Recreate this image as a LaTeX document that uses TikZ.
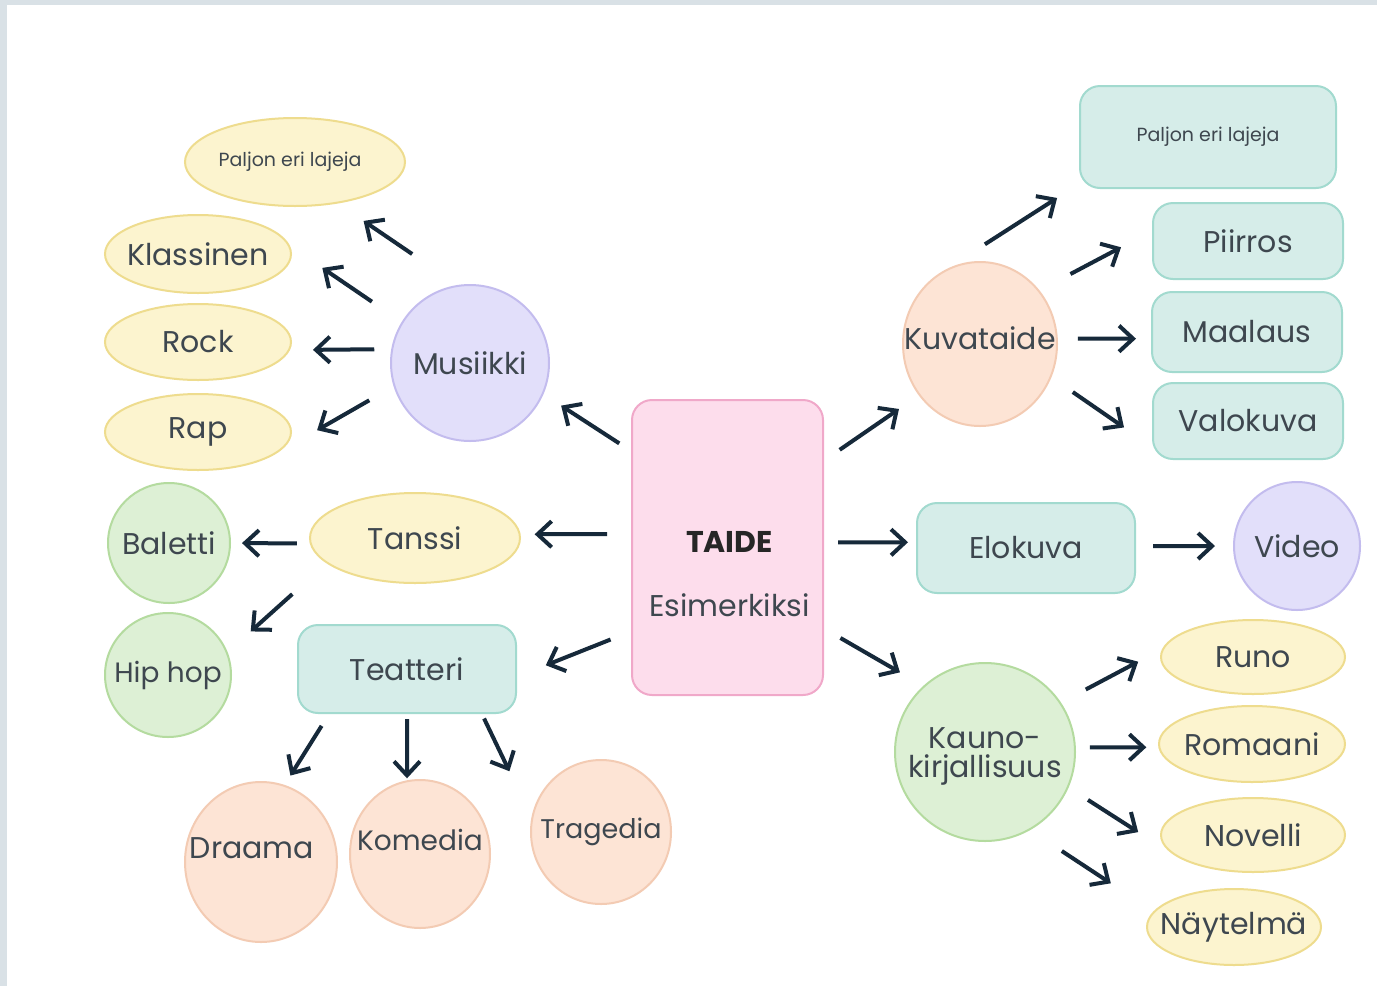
\documentclass[tikz,border=0pt]{standalone}
\usepackage{fontspec}
\setmainfont{Poppins}
\usepackage{tikz}
\usetikzlibrary{shapes.geometric,arrows.meta}

\definecolor{frame}{HTML}{D9E1E6}
\definecolor{ink}{HTML}{16293A}
\definecolor{txt}{HTML}{3E474F}
\definecolor{yelFill}{HTML}{FCF4CF}
\definecolor{yelLine}{HTML}{EEDC8E}
\definecolor{grnFill}{HTML}{DDF0D5}
\definecolor{grnLine}{HTML}{B4DB9F}
\definecolor{pchFill}{HTML}{FDE4D5}
\definecolor{pchLine}{HTML}{F3CBB3}
\definecolor{purFill}{HTML}{E2DFFA}
\definecolor{purLine}{HTML}{C3BCEE}
\definecolor{tealFill}{HTML}{D6EDE9}
\definecolor{tealLine}{HTML}{A2DACF}
\definecolor{pinkFill}{HTML}{FDDDEC}
\definecolor{pinkLine}{HTML}{F0A8C9}

\newcommand{\branch}[4]{
  % arrow from anchor to anchor, pulled back at both ends
  \draw[pil, shorten <=#3pt, shorten >=#4pt] (#1) -- (#2);
}

\begin{document}
\begin{tikzpicture}[x=1pt, y=-1pt,
  every node/.style={text=txt, font=\fontsize{30}{34}\selectfont},
  blob/.style={ellipse, line width=2pt, inner sep=0pt},
  box/.style={rectangle, rounded corners=20pt, line width=2pt, inner sep=0pt},
  yel/.style={blob, fill=yelFill, draw=yelLine},
  grn/.style={blob, fill=grnFill, draw=grnLine},
  pch/.style={blob, fill=pchFill, draw=pchLine},
  pur/.style={blob, fill=purFill, draw=purLine},
  teal/.style={box, fill=tealFill, draw=tealLine},
  small/.style={font=\fontsize{19}{23}\selectfont},
  pil/.style={draw=ink, line width=4pt, -{Straight Barb[length=14pt,width=26pt]}}]

\useasboundingbox (0,0) rectangle (1377,986);
\fill[frame] (0,0) rectangle (1377,986);
\fill[white] (7,5) rectangle (1377,986);

% centre
\node[box, fill=pinkFill, draw=pinkLine, minimum width=191pt, minimum height=295pt,
      label={[align=center, yshift=-27pt, xshift=2pt]center:{\color{black!85}\textbf{TAIDE}}\\[30pt]Esimerkiksi}]
      (taide) at (727.5,547.5) {};

% music
\node[pur, minimum width=158pt, minimum height=156pt, label=center:Musiikki] (musiikki) at (470,363) {};
\node[yel, minimum width=220pt, minimum height=88pt, label={[small, xshift=-5pt]center:Paljon eri lajeja}] (paljonL) at (295,162) {};
\node[yel, minimum width=186pt, minimum height=78pt, label=center:Klassinen] (klassinen) at (198,254) {};
\node[yel, minimum width=186pt, minimum height=76pt, label=center:Rock] (rock) at (198,342) {};
\node[yel, minimum width=186pt, minimum height=76pt, label=center:Rap] (rap) at (198,432) {};

% dance
\node[yel, minimum width=210pt, minimum height=90pt, label=center:Tanssi] (tanssi) at (415,538) {};
\node[grn, minimum width=122pt, minimum height=120pt, label=center:Baletti] (baletti) at (169,543) {};
\node[grn, minimum width=126pt, minimum height=124pt, label={[font=\fontsize{28}{32}\selectfont]center:Hip hop}] (hiphop) at (168,675) {};

% theatre
\node[teal, minimum width=218pt, minimum height=88pt] (teatteri) at (407,669) {Teatteri};
\node[pch, minimum width=152pt, minimum height=160pt, label={[yshift=14pt, xshift=-9pt]center:Draama}] (draama) at (261,862) {};
\node[pch, minimum width=140pt, minimum height=148pt, label={[yshift=14pt, font=\fontsize{28}{32}\selectfont]center:Komedia}] (komedia) at (420,854) {};
\node[pch, minimum width=140pt, minimum height=144pt, label={[font=\fontsize{27}{31}\selectfont]center:Tragedia}] (tragedia) at (601,832) {};

% visual art
\node[pch, minimum width=154pt, minimum height=164pt, label={[yshift=6pt]center:Kuvataide}] (kuvataide) at (980,344) {};
\node[teal, minimum width=256pt, minimum height=102pt, small] (paljonR) at (1208,137) {Paljon eri lajeja};
\node[teal, minimum width=190pt, minimum height=76pt] (piirros) at (1248,241) {Piirros};
\node[teal, minimum width=190pt, minimum height=80pt] (maalaus) at (1247,332) {Maalaus};
\node[teal, minimum width=190pt, minimum height=76pt] (valokuva) at (1248,421) {Valokuva};

% film
\node[teal, minimum width=218pt, minimum height=90pt] (elokuva) at (1026,548) {Elokuva};
\node[pur, minimum width=126pt, minimum height=128pt, label=center:Video] (video) at (1297,546) {};

% literature
\node[grn, minimum width=180pt, minimum height=178pt,
      label={[align=center, yshift=-4pt, font=\fontsize{30}{29}\selectfont]center:Kauno-\\kirjallisuus}] (kauno) at (985,752) {};
\node[yel, minimum width=184pt, minimum height=74pt, label=center:Runo] (runo) at (1253,657) {};
\node[yel, minimum width=186pt, minimum height=76pt, label=center:Romaani] (romaani) at (1252,744) {};
\node[yel, minimum width=184pt, minimum height=74pt, label=center:Novelli] (novelli) at (1253,835) {};
\node[yel, minimum width=174pt, minimum height=76pt, label=center:Näytelmä] (naytelma) at (1234,927) {};

% arrows
\branch{taide.135}{musiikki.-23}{14}{21}
\branch{musiikki.99}{paljonL.-44}{55}{31}
\branch{musiikki.149}{klassinen.5}{36}{39}
\branch{musiikki.170}{rock.-5}{17}{23}
\branch{musiikki.197}{rap.-18}{28}{52}
\branch{taide.172}{tanssi.2}{24}{14}
\branch{tanssi.183}{baletti.0}{13}{11}
\branch{tanssi.196}{hiphop.21}{46}{31}
\branch{taide.221}{teatteri.-4}{22}{31}
\branch{teatteri.210}{draama.73}{14}{11}
\branch{teatteri.south}{komedia.100}{5}{2}
\branch{teatteri.-31}{tragedia.168}{5}{51}
\branch{taide.42}{kuvataide.220}{19}{24}
\branch{kuvataide.115}{paljonR.200}{47}{26}
\branch{kuvataide.42}{piirros.174}{35}{35}
\branch{kuvataide.4}{maalaus.184}{20}{15}
\branch{kuvataide.-25}{valokuva.195}{26}{34}
\branch{taide.3}{elokuva.177}{14}{8}
\branch{elokuva.1}{video.180}{17}{18}
\branch{taide.-40}{kauno.133}{19}{27}
\branch{kauno.33}{runo.175}{28}{27}
\branch{kauno.3}{romaani.182}{14}{12}
\branch{kauno.-23}{novelli.195}{23}{44}
\branch{kauno.-60}{naytelma.169}{38}{51}
\end{tikzpicture}
\end{document}
